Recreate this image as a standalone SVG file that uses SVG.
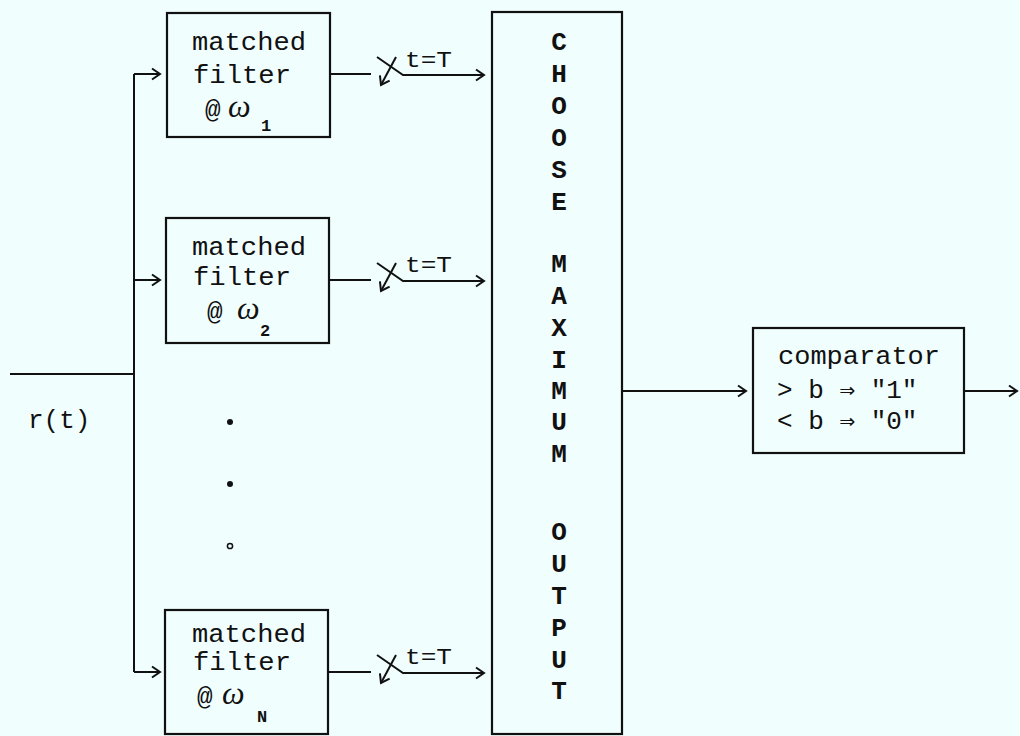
<svg xmlns="http://www.w3.org/2000/svg" width="1020" height="736" viewBox="0 0 1020 736">
  <style>
    .box { fill: none; stroke: #111; stroke-width: 2.2; }
    .wire { fill: none; stroke: #111; stroke-width: 2; }
    .t { font-family: "Liberation Mono", "DejaVu Sans Mono", monospace; font-size: 26px; fill: #111; }
    .sw { font-family: "Liberation Mono", "DejaVu Sans Mono", monospace; font-size: 22px; fill: #111; }
    .om { font-family: "Liberation Serif", "DejaVu Serif", serif; font-style: italic; font-size: 32px; fill: #111; }
    .sub { font-family: "Liberation Mono", "DejaVu Sans Mono", monospace; font-weight: bold; font-size: 17px; fill: #111; }
    .v { font-family: "Liberation Mono", "DejaVu Sans Mono", monospace; font-weight: bold; font-size: 26px; fill: #111; text-anchor: middle; }
  </style>
  <defs>
    <marker id="arr" markerUnits="userSpaceOnUse" markerWidth="14" markerHeight="14" viewBox="0 0 14 14" refX="11" refY="7" orient="auto">
      <path d="M3,1.5 L11,7 L3,12.5" fill="none" stroke="#111" stroke-width="2"/>
    </marker>
  </defs>
  <rect width="1020" height="736" fill="#f0fefe"/>

  <!-- connectors -->
  <g id="connectors">
    <!-- input r(t) and distribution bus -->
    <path class="wire" d="M10,374 H134"/>
    <path class="wire" d="M134,74 V672"/>
    <path class="wire" d="M134,74 H160" marker-end="url(#arr)"/>
    <path class="wire" d="M134,280 H160" marker-end="url(#arr)"/>
    <path class="wire" d="M134,672 H160" marker-end="url(#arr)"/>

    <!-- sampling switch, branch 1 -->
    <path class="wire" d="M330,74 H371"/>
    <path class="wire" d="M377,57 L403,75 H484" marker-end="url(#arr)"/>
    <path class="wire" d="M396,57 L381,85" marker-end="url(#arr)"/>
    <!-- sampling switch, branch 2 -->
    <path class="wire" d="M329,280 H371"/>
    <path class="wire" d="M377,263 L403,281 H484" marker-end="url(#arr)"/>
    <path class="wire" d="M396,263 L381,291" marker-end="url(#arr)"/>
    <!-- sampling switch, branch N -->
    <path class="wire" d="M328,672 H371"/>
    <path class="wire" d="M377,655 L403,673 H484" marker-end="url(#arr)"/>
    <path class="wire" d="M396,655 L381,683" marker-end="url(#arr)"/>

    <!-- decision path -->
    <path class="wire" d="M622,391 H746" marker-end="url(#arr)"/>
    <path class="wire" d="M964,391 H1017" marker-end="url(#arr)"/>
  </g>

  <g id="switch-labels">
    <text class="sw" x="405" y="67" textLength="47" lengthAdjust="spacingAndGlyphs">t=T</text>
    <text class="sw" x="405" y="272" textLength="47" lengthAdjust="spacingAndGlyphs">t=T</text>
    <text class="sw" x="405" y="664" textLength="47" lengthAdjust="spacingAndGlyphs">t=T</text>
  </g>

  <g id="input-label">
    <text class="t" x="28" y="428">r(t)</text>
  </g>

  <g id="ellipsis">
    <circle cx="230" cy="422" r="3" fill="#111"/>
    <circle cx="230" cy="484" r="3" fill="#111"/>
    <circle cx="230" cy="546" r="2.6" fill="none" stroke="#111" stroke-width="1.5"/>
  </g>

  <!-- filter bank -->
  <g id="filter-1">
    <rect class="box" x="167" y="13" width="163" height="124"/>
    <text class="t" x="192" y="50" textLength="114" lengthAdjust="spacingAndGlyphs">matched</text>
    <text class="t" x="193" y="83" textLength="98" lengthAdjust="spacingAndGlyphs">filter</text>
    <text class="t" x="205" y="118">@</text>
    <text class="om" x="228" y="117">ω</text>
    <text class="sub" x="261" y="131">1</text>
  </g>

  <g id="filter-2">
    <rect class="box" x="166" y="218" width="163" height="125"/>
    <text class="t" x="192" y="255" textLength="114" lengthAdjust="spacingAndGlyphs">matched</text>
    <text class="t" x="193" y="285" textLength="98" lengthAdjust="spacingAndGlyphs">filter</text>
    <text class="t" x="207" y="320">@</text>
    <text class="om" x="237" y="319">ω</text>
    <text class="sub" x="260" y="336">2</text>
  </g>

  <g id="filter-N">
    <rect class="box" x="165" y="610" width="163" height="124"/>
    <text class="t" x="192" y="642" textLength="114" lengthAdjust="spacingAndGlyphs">matched</text>
    <text class="t" x="193" y="670" textLength="98" lengthAdjust="spacingAndGlyphs">filter</text>
    <text class="t" x="197" y="705">@</text>
    <text class="om" x="222" y="704">ω</text>
    <text class="sub" x="257" y="722">N</text>
  </g>

  <!-- selector -->
  <g id="choose-max">
    <rect class="box" x="492" y="12" width="130" height="722"/>
    <text class="v" x="559" y="50">C</text>
    <text class="v" x="559" y="82">H</text>
    <text class="v" x="559" y="114">O</text>
    <text class="v" x="559" y="146">O</text>
    <text class="v" x="559" y="178">S</text>
    <text class="v" x="559" y="210">E</text>
    <text class="v" x="559" y="272">M</text>
    <text class="v" x="559" y="304">A</text>
    <text class="v" x="559" y="336">X</text>
    <text class="v" x="559" y="368">I</text>
    <text class="v" x="559" y="399">M</text>
    <text class="v" x="559" y="430">U</text>
    <text class="v" x="559" y="462">M</text>
    <text class="v" x="559" y="540">O</text>
    <text class="v" x="559" y="572">U</text>
    <text class="v" x="559" y="604">T</text>
    <text class="v" x="559" y="636">P</text>
    <text class="v" x="559" y="668">U</text>
    <text class="v" x="559" y="699">T</text>
  </g>

  <g id="comparator">
    <rect class="box" x="753" y="328" width="211" height="125"/>
    <text class="t" x="778" y="364" textLength="162" lengthAdjust="spacingAndGlyphs">comparator</text>
    <text class="t" x="777" y="398">&gt; b ⇒ "1"</text>
    <text class="t" x="777" y="429">&lt; b ⇒ "0"</text>
  </g>
</svg>
